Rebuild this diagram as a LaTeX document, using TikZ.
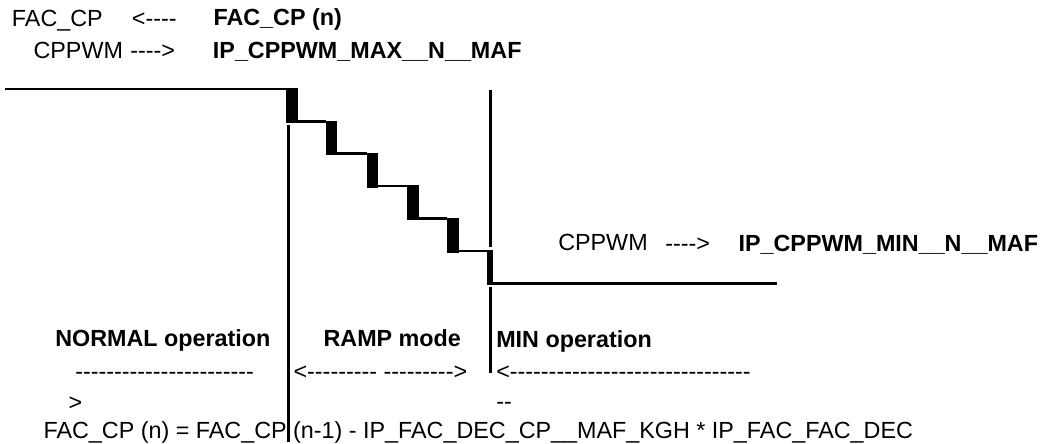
\documentclass[tikz,border=0pt]{standalone}
\usepackage{fontspec}
\newfontfamily\arialfont{Liberation Sans}
\begin{document}
\begin{tikzpicture}[x=0.75pt,y=-0.75pt,
        lbl/.style={anchor=base west,inner sep=0pt,font=\arialfont\fontsize{17.5}{21}\selectfont},
        blbl/.style={lbl,font=\arialfont\bfseries\fontsize{17.5}{21}\selectfont},
        level/.style={line width=1.8pt},
        border/.style={line width=2.3pt}]
        \useasboundingbox (0,0) rectangle (1049,443);
        % top labels
        \node [lbl] (faccp) at (11.7,26) {FAC\_CP};
        \node [lbl] (larrow) at (131.7,26) {<----};
        \node [blbl] (facn) at (213.3,25) {FAC\_CP (n)};
        \node [lbl] (cppwm) at (33.3,58) {CPPWM};
        \node [lbl] (rarrow) at (130,58) {---->};
        \node [blbl] (pwmmax) at (212.7,58) {IP\_CPPWM\_MAX\_\_N\_\_MAF};
        % staircase
        \draw [level] (5,88.7) -- (287,88.7);
        \fill (286,88) rectangle (297.5,122.5);
        \draw [level] (297,121.3) -- (326,121.3);
        \fill (325.5,120.5) rectangle (337,154.5);
        \draw [level] (337,153.5) -- (367,153.5);
        \fill (366.5,152.7) rectangle (378,187.5);
        \draw [level] (378,186) -- (407,186);
        \fill (407,185) rectangle (418.5,219.5);
        \draw [level] (418.5,218.5) -- (447,218.5);
        \fill (447,217.7) rectangle (458.5,252.5);
        \draw [level] (458.5,251) -- (493,251);
        \fill (487,250) rectangle (493,284.7);
        \draw [level] (493,283.5) -- (777,283.5);
        % mode borders
        \draw [border] (288.3,125) -- (288.3,442);
        \draw [border] (490.5,90) -- (490.5,247);
        \draw [border] (490.5,287) -- (490.5,373);
        % min level labels
        \node [lbl] (cppwmr) at (558,250) {CPPWM};
        \node [lbl] (rarrowr) at (665,251) {---->};
        \node [blbl] (pwmmin) at (738.3,251.5) {IP\_CPPWM\_MIN\_\_N\_\_MAF};
        % modes
        \node [blbl] (normal) at (55,346) {NORMAL operation};
        \node [blbl] (ramp) at (323.3,346) {RAMP mode};
        \node [blbl] (minop) at (496,347) {MIN operation};
        \node [lbl] (normaldash) at (75,379) {-----------------------};
        \node [lbl] (normaltip) at (68.3,410) {>};
        \node [lbl] (rampdash) at (293.3,379) {<--------- --------->};
        \node [lbl] (mindash) at (496,379) {<-------------------------------};
        \node [lbl] (mintail) at (496,409) {--};
        \node [lbl] (formula) at (43.3,438.5) {FAC\_CP (n) = FAC\_CP (n-1) - IP\_FAC\_DEC\_CP\_\_MAF\_KGH * IP\_FAC\_FAC\_DEC};
    \end{tikzpicture}
\end{document}
